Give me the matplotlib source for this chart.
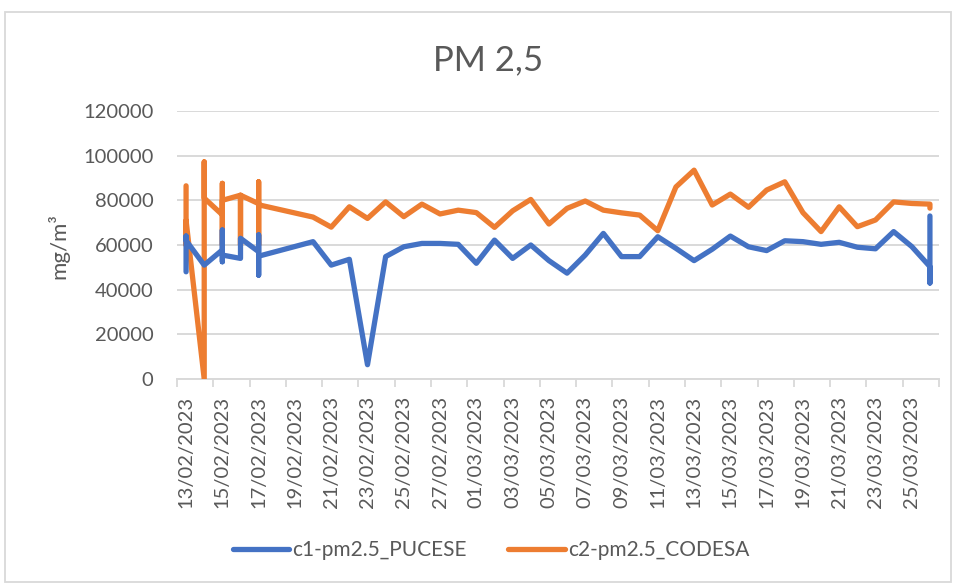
import matplotlib
matplotlib.use("Agg")
import matplotlib.pyplot as plt
import pandas as pd
from matplotlib.patches import Rectangle
from matplotlib.lines import Line2D

plt.rcParams['font.family'] = ['Lato', 'DejaVu Sans']

# ---------------- data ----------------
pucese_dates = (["13/02/2023"] * 3 + ["14/02/2023"] + ["15/02/2023"] * 4 + ["16/02/2023"] * 2 +
                ["17/02/2023"] * 4 +
                ["20/02/2023", "21/02/2023", "22/02/2023", "23/02/2023", "24/02/2023", "25/02/2023",
                 "26/02/2023", "27/02/2023", "28/02/2023", "01/03/2023", "02/03/2023", "03/03/2023",
                 "04/03/2023", "05/03/2023", "06/03/2023", "07/03/2023", "08/03/2023", "09/03/2023",
                 "10/03/2023", "11/03/2023", "12/03/2023", "13/03/2023", "14/03/2023", "15/03/2023",
                 "16/03/2023", "17/03/2023", "18/03/2023", "19/03/2023", "20/03/2023", "21/03/2023",
                 "22/03/2023", "23/03/2023", "24/03/2023", "25/03/2023"] +
                ["26/03/2023"] * 3)
pucese_values = [48000, 64000, 62000,
                 51000,
                 57800, 66700, 52500, 55500,
                 54000, 63000,
                 57000, 64500, 46500, 55000,
                 61500, 51000, 53600, 6400, 54800, 59200,
                 60700, 60700, 60300, 51800, 62200, 54000,
                 60000, 53000, 47400, 55500, 65200, 54800,
                 54800, 63700, 58500, 53000, 58100, 64000,
                 59200, 57500, 61900, 61500, 60300, 61200,
                 59000, 58300, 66000, 59300,
                 50300, 43000, 73000]

codesa_dates = (["13/02/2023"] * 3 + ["14/02/2023"] * 3 + ["15/02/2023"] * 4 + ["16/02/2023"] * 3 +
                ["17/02/2023"] * 4 +
                ["20/02/2023", "21/02/2023", "22/02/2023", "23/02/2023", "24/02/2023", "25/02/2023",
                 "26/02/2023", "27/02/2023", "28/02/2023", "01/03/2023", "02/03/2023", "03/03/2023",
                 "04/03/2023", "05/03/2023", "06/03/2023", "07/03/2023", "08/03/2023", "09/03/2023",
                 "10/03/2023", "11/03/2023", "12/03/2023", "13/03/2023", "14/03/2023", "15/03/2023",
                 "16/03/2023", "17/03/2023", "18/03/2023", "19/03/2023", "20/03/2023", "21/03/2023",
                 "22/03/2023", "23/03/2023", "24/03/2023", "25/03/2023"] +
                ["26/03/2023"] * 2)
codesa_values = [86500, 60000, 71000,
                 0, 97200, 81000,
                 73500, 87600, 60000, 80000,
                 82300, 60000, 82300,
                 78500, 88300, 60000, 78000,
                 72500, 68000, 77100, 71900, 79300, 72700,
                 78300, 73900, 75600, 74500, 67900, 75300,
                 80400, 69400, 76400, 79700, 75600, 74400,
                 73400, 66400, 86000, 93500, 77900, 82800,
                 76900, 84600, 88300, 74500, 66000, 77100,
                 68200, 71200, 79300, 78600,
                 78300, 76500]

start_date = "13/02/2023"
end_date = "26/03/2023"
y_ticks = [0, 20000, 40000, 60000, 80000, 100000, 120000]
title = "PM 2,5"
y_label = "mg/m³"
series_names = ["c1-pm2.5_PUCESE", "c2-pm2.5_CODESA"]
colors = ["#4472C4", "#ED7D31"]

# ---------------- prep ----------------
t0 = pd.to_datetime(start_date, dayfirst=True)
t1 = pd.to_datetime(end_date, dayfirst=True)
ndays = (t1 - t0).days + 1


def to_idx(dates):
    return [(pd.to_datetime(d, dayfirst=True) - t0).days for d in dates]


x_p = to_idx(pucese_dates)
x_c = to_idx(codesa_dates)

W, H = 956, 583
fig = plt.figure(figsize=(W / 100, H / 100), dpi=100)
fig.patch.set_facecolor("white")

# chart border
fig.add_artist(Rectangle((5 / W, 1 - 582 / H), (951 - 5) / W, (582 - 12) / H,
                         transform=fig.transFigure, fill=False,
                         edgecolor="#D9D9D9", linewidth=1.3))

left, right, top, bottom = 177, 939, 111, 379
ax = fig.add_axes([left / W, 1 - bottom / H, (right - left) / W, (bottom - top) / H])

txt = "#595959"
grid = "#D9D9D9"
lw = 3.8

ax.plot(x_c, codesa_values, color=colors[1], lw=lw, solid_joinstyle="round",
        solid_capstyle="round", zorder=3)
ax.plot(x_p, pucese_values, color=colors[0], lw=lw, solid_joinstyle="round",
        solid_capstyle="round", zorder=4)

ax.set_xlim(-0.5, ndays - 0.5)
ax.set_ylim(y_ticks[0], y_ticks[-1])
ax.set_yticks(y_ticks)
ax.set_yticklabels([str(v) for v in y_ticks])
ax.yaxis.grid(True, color=grid, linewidth=1.4)
ax.set_axisbelow(True)
ax.tick_params(axis="y", length=0, pad=17, labelsize=14.5, labelcolor=txt)

major = [k - 0.5 for k in range(0, ndays + 1, 2)]
minor = list(range(0, ndays, 2))
ax.set_xticks(major)
ax.set_xticklabels([])
ax.set_xticks(minor, minor=True)
ax.set_xticklabels([(t0 + pd.Timedelta(days=d)).strftime("%d/%m/%Y") for d in minor],
                   minor=True, rotation=90)
ax.tick_params(axis="x", which="major", length=6, width=1.3, color=grid, direction="out")
ax.tick_params(axis="x", which="minor", length=0, pad=12, labelsize=14.5, labelcolor=txt)
for lbl in ax.get_xticklabels(minor=True):
    lbl.set_verticalalignment("top")

for s in ["left", "right", "top"]:
    ax.spines[s].set_visible(False)
ax.spines["bottom"].set_color(grid)
ax.spines["bottom"].set_linewidth(1.4)

fig.text(488 / W, 1 - 60 / H, title, ha="center", va="center", fontsize=25, color=txt)
fig.text(58 / W, 1 - 246 / H, y_label, ha="center", va="center", rotation=90,
         fontsize=16, color=txt)

handles = [Line2D([], [], color=c, lw=lw, solid_capstyle="round") for c in colors]
fig.legend(handles, series_names, loc="center", bbox_to_anchor=(491 / W, 1 - 550 / H),
           ncol=2, frameon=False, fontsize=15, labelcolor=txt, handlelength=2.7,
           handletextpad=0.15, columnspacing=2.0)

fig.savefig("out.png", dpi=100, facecolor="white")
